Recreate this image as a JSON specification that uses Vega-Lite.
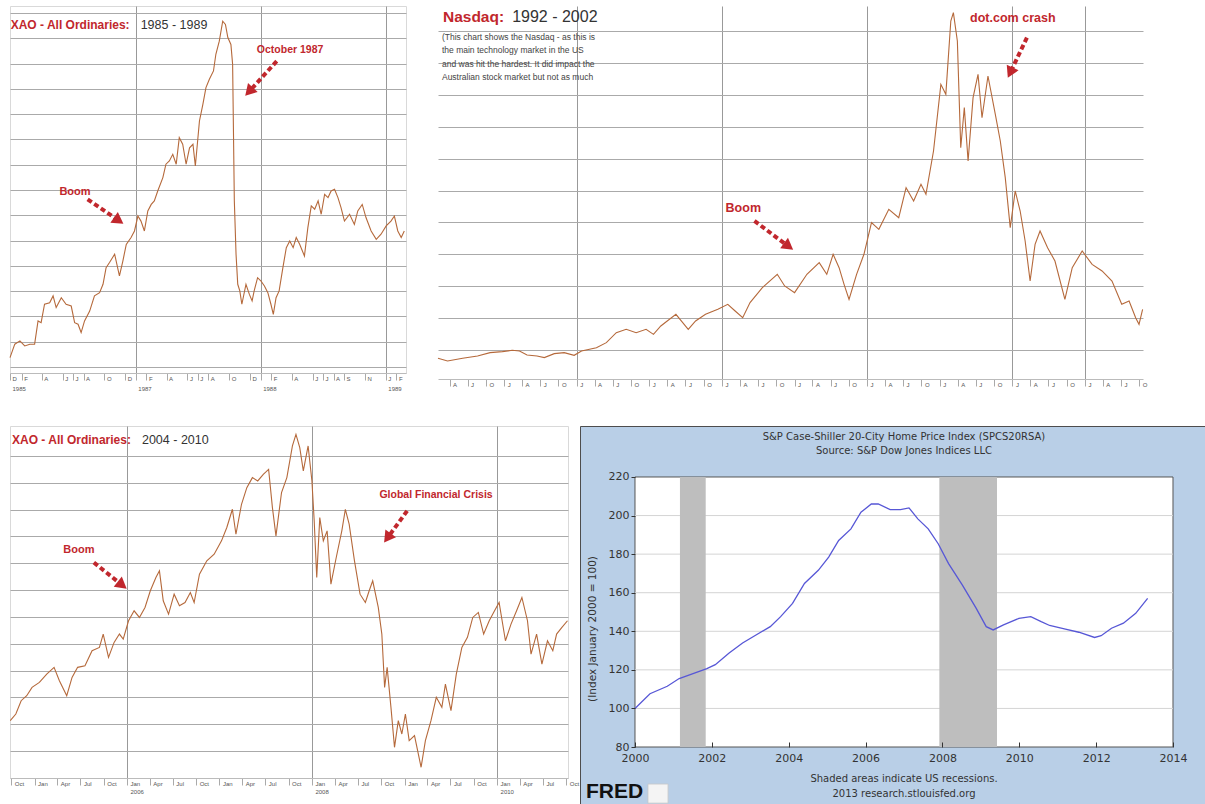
{
  "$schema": "https://vega.github.io/schema/vega-lite/v6.json",
  "background": "white",
  "padding": {"left": 7, "top": 5, "right": 0, "bottom": 0},
  "autosize": {"type": "pad"},
  "config": {"font": "Liberation Sans", "view": {"stroke": null}},
  "datasets": {
    "xao1": [
      {"date":"1985-12-29","value":937},{"date":"1986-01-12","value":990},{"date":"1986-01-27","value":1003},{"date":"1986-02-10","value":983},{"date":"1986-02-25","value":990},{"date":"1986-03-11","value":990},{"date":"1986-03-21","value":1082},{"date":"1986-03-30","value":1075},{"date":"1986-04-09","value":1148},{"date":"1986-04-24","value":1154},{"date":"1986-05-04","value":1181},{"date":"1986-05-13","value":1135},{"date":"1986-05-28","value":1174},{"date":"1986-06-11","value":1148},{"date":"1986-06-26","value":1141},{"date":"1986-07-06","value":1075},{"date":"1986-07-16","value":1069},{"date":"1986-07-25","value":1036},{"date":"1986-08-04","value":1082},{"date":"1986-08-19","value":1121},{"date":"1986-09-02","value":1181},{"date":"1986-09-17","value":1194},{"date":"1986-09-27","value":1227},{"date":"1986-10-06","value":1293},{"date":"1986-10-16","value":1313},{"date":"1986-10-31","value":1346},{"date":"1986-11-14","value":1260},{"date":"1986-11-24","value":1319},{"date":"1986-12-04","value":1385},{"date":"1986-12-18","value":1412},{"date":"1986-12-28","value":1438},{"date":"1987-01-07","value":1497},{"date":"1987-01-16","value":1477},{"date":"1987-01-26","value":1438},{"date":"1987-02-05","value":1517},{"date":"1987-02-15","value":1543},{"date":"1987-02-24","value":1557},{"date":"1987-03-06","value":1596},{"date":"1987-03-21","value":1649},{"date":"1987-03-30","value":1702},{"date":"1987-04-09","value":1715},{"date":"1987-04-19","value":1741},{"date":"1987-04-29","value":1702},{"date":"1987-05-08","value":1807},{"date":"1987-05-18","value":1781},{"date":"1987-05-28","value":1702},{"date":"1987-06-07","value":1767},{"date":"1987-06-17","value":1781},{"date":"1987-06-24","value":1695},{"date":"1987-07-06","value":1873},{"date":"1987-07-16","value":1939},{"date":"1987-07-25","value":2005},{"date":"1987-08-04","value":2038},{"date":"1987-08-16","value":2071},{"date":"1987-08-23","value":2137},{"date":"1987-09-02","value":2189},{"date":"1987-09-12","value":2268},{"date":"1987-09-20","value":2255},{"date":"1987-09-27","value":2203},{"date":"1987-10-06","value":2176},{"date":"1987-10-11","value":2097},{"date":"1987-10-16","value":1557},{"date":"1987-10-21","value":1346},{"date":"1987-10-26","value":1227},{"date":"1987-11-01","value":1201},{"date":"1987-11-07","value":1148},{"date":"1987-11-19","value":1227},{"date":"1987-11-29","value":1187},{"date":"1987-12-07","value":1161},{"date":"1987-12-13","value":1201},{"date":"1987-12-23","value":1253},{"date":"1988-01-02","value":1240},{"date":"1988-01-12","value":1220},{"date":"1988-01-22","value":1194},{"date":"1988-01-31","value":1148},{"date":"1988-02-07","value":1108},{"date":"1988-02-15","value":1174},{"date":"1988-02-24","value":1201},{"date":"1988-03-06","value":1293},{"date":"1988-03-16","value":1372},{"date":"1988-03-26","value":1398},{"date":"1988-04-05","value":1372},{"date":"1988-04-14","value":1412},{"date":"1988-04-24","value":1385},{"date":"1988-05-08","value":1339},{"date":"1988-05-18","value":1451},{"date":"1988-05-28","value":1537},{"date":"1988-06-07","value":1524},{"date":"1988-06-17","value":1557},{"date":"1988-06-26","value":1504},{"date":"1988-07-06","value":1583},{"date":"1988-07-16","value":1570},{"date":"1988-07-25","value":1596},{"date":"1988-08-04","value":1603},{"date":"1988-08-14","value":1570},{"date":"1988-08-23","value":1530},{"date":"1988-09-02","value":1477},{"date":"1988-09-17","value":1504},{"date":"1988-10-01","value":1464},{"date":"1988-10-11","value":1517},{"date":"1988-10-24","value":1543},{"date":"1988-11-04","value":1491},{"date":"1988-11-19","value":1438},{"date":"1988-12-04","value":1405},{"date":"1988-12-18","value":1425},{"date":"1989-01-02","value":1458},{"date":"1989-01-16","value":1477},{"date":"1989-01-26","value":1497},{"date":"1989-02-05","value":1438},{"date":"1989-02-15","value":1412},{"date":"1989-02-24","value":1438}
    ],
    "nasdaq": [
      {"date":"1993-02-02","value":696},{"date":"1993-03-22","value":662},{"date":"1993-06-06","value":696},{"date":"1993-08-20","value":725},{"date":"1993-10-22","value":767},{"date":"1993-12-23","value":779},{"date":"1994-02-11","value":796},{"date":"1994-03-19","value":787},{"date":"1994-04-26","value":737},{"date":"1994-06-15","value":725},{"date":"1994-07-22","value":704},{"date":"1994-09-10","value":754},{"date":"1994-10-30","value":767},{"date":"1994-12-19","value":733},{"date":"1995-01-25","value":787},{"date":"1995-04-10","value":829},{"date":"1995-05-30","value":892},{"date":"1995-07-19","value":1017},{"date":"1995-09-07","value":1059},{"date":"1995-10-27","value":1017},{"date":"1995-12-16","value":1059},{"date":"1996-01-22","value":996},{"date":"1996-02-28","value":1101},{"date":"1996-05-14","value":1247},{"date":"1996-07-15","value":1059},{"date":"1996-08-21","value":1164},{"date":"1996-10-10","value":1247},{"date":"1996-12-11","value":1310},{"date":"1997-01-30","value":1373},{"date":"1997-03-08","value":1289},{"date":"1997-04-15","value":1205},{"date":"1997-05-22","value":1394},{"date":"1997-07-23","value":1582},{"date":"1997-10-06","value":1749},{"date":"1997-11-12","value":1603},{"date":"1998-01-01","value":1519},{"date":"1998-03-04","value":1749},{"date":"1998-05-05","value":1895},{"date":"1998-06-12","value":1749},{"date":"1998-07-14","value":2000},{"date":"1998-08-13","value":1832},{"date":"1998-09-07","value":1623},{"date":"1998-10-02","value":1435},{"date":"1998-11-09","value":1749},{"date":"1998-12-16","value":2000},{"date":"1999-01-23","value":2397},{"date":"1999-03-01","value":2313},{"date":"1999-04-20","value":2564},{"date":"1999-06-09","value":2459},{"date":"1999-07-16","value":2836},{"date":"1999-08-23","value":2668},{"date":"1999-09-29","value":2877},{"date":"1999-10-24","value":2752},{"date":"1999-12-01","value":3295},{"date":"2000-01-07","value":4131},{"date":"2000-02-01","value":4006},{"date":"2000-02-26","value":4926},{"date":"2000-03-10","value":5030},{"date":"2000-03-30","value":4675},{"date":"2000-04-16","value":3337},{"date":"2000-05-04","value":3839},{"date":"2000-05-23","value":3170},{"date":"2000-06-17","value":3964},{"date":"2000-07-12","value":4257},{"date":"2000-08-01","value":3713},{"date":"2000-08-31","value":4236},{"date":"2000-10-07","value":3755},{"date":"2000-11-01","value":3421},{"date":"2000-11-26","value":2961},{"date":"2000-12-21","value":2334},{"date":"2001-01-15","value":2794},{"date":"2001-02-09","value":2543},{"date":"2001-03-06","value":2167},{"date":"2001-03-31","value":1665},{"date":"2001-04-25","value":2125},{"date":"2001-05-20","value":2292},{"date":"2001-06-27","value":2083},{"date":"2001-08-03","value":1916},{"date":"2001-09-22","value":1435},{"date":"2001-10-29","value":1832},{"date":"2001-12-18","value":2041},{"date":"2002-02-06","value":1874},{"date":"2002-03-28","value":1791},{"date":"2002-05-17","value":1665},{"date":"2002-07-05","value":1373},{"date":"2002-08-11","value":1414},{"date":"2002-09-13","value":1205},{"date":"2002-09-30","value":1122},{"date":"2002-10-18","value":1310}
    ],
    "xao2": [
      {"date":"2004-09-27","value":3641},{"date":"2004-10-19","value":3715},{"date":"2004-11-09","value":3864},{"date":"2004-12-01","value":3920},{"date":"2004-12-22","value":4013},{"date":"2005-01-20","value":4069},{"date":"2005-02-18","value":4162},{"date":"2005-03-19","value":4237},{"date":"2005-04-09","value":4088},{"date":"2005-05-08","value":3920},{"date":"2005-05-29","value":4125},{"date":"2005-06-20","value":4237},{"date":"2005-07-19","value":4255},{"date":"2005-08-16","value":4423},{"date":"2005-09-14","value":4460},{"date":"2005-09-29","value":4609},{"date":"2005-10-20","value":4348},{"date":"2005-11-11","value":4516},{"date":"2005-12-02","value":4609},{"date":"2005-12-17","value":4553},{"date":"2006-01-07","value":4758},{"date":"2006-01-29","value":4869},{"date":"2006-02-19","value":4795},{"date":"2006-03-13","value":4907},{"date":"2006-04-03","value":5093},{"date":"2006-04-25","value":5241},{"date":"2006-05-09","value":5316},{"date":"2006-05-24","value":4981},{"date":"2006-06-14","value":4832},{"date":"2006-07-06","value":5055},{"date":"2006-07-27","value":4925},{"date":"2006-08-18","value":4962},{"date":"2006-09-08","value":5074},{"date":"2006-09-23","value":4962},{"date":"2006-10-14","value":5279},{"date":"2006-11-12","value":5428},{"date":"2006-12-11","value":5502},{"date":"2007-01-09","value":5651},{"date":"2007-01-30","value":5800},{"date":"2007-02-21","value":6004},{"date":"2007-03-07","value":5725},{"date":"2007-03-29","value":6060},{"date":"2007-04-19","value":6246},{"date":"2007-05-11","value":6358},{"date":"2007-06-01","value":6321},{"date":"2007-06-23","value":6395},{"date":"2007-07-14","value":6451},{"date":"2007-07-29","value":6023},{"date":"2007-08-12","value":5707},{"date":"2007-09-03","value":6191},{"date":"2007-09-24","value":6358},{"date":"2007-10-16","value":6712},{"date":"2007-10-30","value":6842},{"date":"2007-11-14","value":6693},{"date":"2007-11-28","value":6433},{"date":"2007-12-17","value":6712},{"date":"2008-01-01","value":6321},{"date":"2008-01-10","value":5874},{"date":"2008-01-20","value":5241},{"date":"2008-02-01","value":5911},{"date":"2008-02-15","value":5651},{"date":"2008-03-01","value":5763},{"date":"2008-03-16","value":5167},{"date":"2008-04-06","value":5465},{"date":"2008-04-28","value":5763},{"date":"2008-05-12","value":6004},{"date":"2008-05-27","value":5837},{"date":"2008-06-17","value":5428},{"date":"2008-07-09","value":5055},{"date":"2008-07-30","value":4962},{"date":"2008-08-14","value":5093},{"date":"2008-08-28","value":5204},{"date":"2008-09-19","value":4907},{"date":"2008-10-03","value":4609},{"date":"2008-10-14","value":4013},{"date":"2008-10-24","value":4237},{"date":"2008-11-08","value":3790},{"date":"2008-11-22","value":3343},{"date":"2008-12-07","value":3641},{"date":"2008-12-21","value":3492},{"date":"2009-01-04","value":3715},{"date":"2009-01-19","value":3418},{"date":"2009-02-09","value":3474},{"date":"2009-03-07","value":3120},{"date":"2009-03-24","value":3418},{"date":"2009-04-15","value":3641},{"date":"2009-05-06","value":3902},{"date":"2009-05-28","value":3790},{"date":"2009-06-11","value":4050},{"date":"2009-07-03","value":3753},{"date":"2009-07-24","value":4162},{"date":"2009-08-15","value":4460},{"date":"2009-09-06","value":4572},{"date":"2009-09-27","value":4795},{"date":"2009-10-19","value":4851},{"date":"2009-11-09","value":4609},{"date":"2009-12-01","value":4758},{"date":"2009-12-22","value":4869},{"date":"2010-01-09","value":4962},{"date":"2010-02-03","value":4534},{"date":"2010-02-25","value":4720},{"date":"2010-03-19","value":4869},{"date":"2010-04-09","value":5018},{"date":"2010-05-01","value":4758},{"date":"2010-05-15","value":4385},{"date":"2010-06-06","value":4609},{"date":"2010-06-27","value":4274},{"date":"2010-07-19","value":4534},{"date":"2010-08-09","value":4423},{"date":"2010-08-24","value":4609},{"date":"2010-09-14","value":4683},{"date":"2010-10-06","value":4758}
    ],
    "cs": [
      {"year":2000.0,"value":100.0},{"year":2000.39,"value":107.6},{"year":2000.84,"value":111.5},{"year":2001.15,"value":115.5},{"year":2001.51,"value":118.0},{"year":2001.87,"value":120.6},{"year":2002.09,"value":122.7},{"year":2002.45,"value":128.7},{"year":2002.8,"value":133.9},{"year":2003.16,"value":138.2},{"year":2003.52,"value":142.4},{"year":2003.79,"value":147.6},{"year":2004.1,"value":154.5},{"year":2004.41,"value":164.8},{"year":2004.77,"value":171.6},{"year":2005.04,"value":178.5},{"year":2005.3,"value":187.1},{"year":2005.62,"value":193.1},{"year":2005.88,"value":201.7},{"year":2006.15,"value":206.0},{"year":2006.33,"value":206.0},{"year":2006.64,"value":203.1},{"year":2006.91,"value":203.1},{"year":2007.13,"value":204.0},{"year":2007.36,"value":198.3},{"year":2007.63,"value":193.1},{"year":2007.89,"value":185.4},{"year":2008.16,"value":175.1},{"year":2008.52,"value":163.9},{"year":2008.88,"value":151.9},{"year":2009.14,"value":142.4},{"year":2009.32,"value":140.7},{"year":2009.59,"value":143.3},{"year":2009.99,"value":146.7},{"year":2010.3,"value":147.6},{"year":2010.57,"value":145.0},{"year":2010.79,"value":143.0},{"year":2011.2,"value":141.1},{"year":2011.55,"value":139.5},{"year":2011.96,"value":136.8},{"year":2012.13,"value":137.7},{"year":2012.4,"value":141.6},{"year":2012.71,"value":144.2},{"year":2013.03,"value":149.3},{"year":2013.34,"value":157.1}
    ],
    "recess": [{"start": 2001.17, "end": 2001.84}, {"start": 2007.92, "end": 2009.42}],
    "csgrid": [{"v": 100}, {"v": 120}, {"v": 140}, {"v": 160}, {"v": 180}, {"v": 200}]
  },
  "spacing": 33,
  "vconcat": [
    {
      "spacing": 32,
      "bounds": "flush",
      "hconcat": [
        {
          "width": 396, "height": 367,
          "view": {"stroke": "#d9d9d9"},
          "layer": [
            {
              "data": {"name": "xao1"},
              "mark": {"type": "line", "color": "#b5693b", "strokeWidth": 1.1},
              "encoding": {
                "x": {"field": "date", "type": "temporal", "title": null,
                  "scale": {"type": "utc", "domain": [{"year":1985,"month":12,"date":29,"utc":true},{"year":1989,"month":3,"date":1,"utc":true}]},
                  "axis": {"title": null, "tickCount": 500,
                    "values": [{"year":1985,"month":12,"date":29,"utc":true},{"year":1986,"month":2,"date":1,"utc":true},{"year":1986,"month":4,"date":1,"utc":true},{"year":1986,"month":6,"date":1,"utc":true},{"year":1986,"month":7,"date":1,"utc":true},{"year":1986,"month":8,"date":1,"utc":true},{"year":1986,"month":10,"date":1,"utc":true},{"year":1986,"month":12,"date":1,"utc":true},{"year":1987,"month":1,"date":1,"utc":true},{"year":1987,"month":2,"date":1,"utc":true},{"year":1987,"month":4,"date":1,"utc":true},{"year":1987,"month":6,"date":1,"utc":true},{"year":1987,"month":7,"date":1,"utc":true},{"year":1987,"month":8,"date":1,"utc":true},{"year":1987,"month":10,"date":1,"utc":true},{"year":1987,"month":12,"date":1,"utc":true},{"year":1988,"month":1,"date":1,"utc":true},{"year":1988,"month":2,"date":1,"utc":true},{"year":1988,"month":4,"date":1,"utc":true},{"year":1988,"month":6,"date":1,"utc":true},{"year":1988,"month":7,"date":1,"utc":true},{"year":1988,"month":8,"date":1,"utc":true},{"year":1988,"month":9,"date":1,"utc":true},{"year":1988,"month":11,"date":1,"utc":true},{"year":1989,"month":1,"date":1,"utc":true},{"year":1989,"month":2,"date":1,"utc":true}],
                    "labelExpr": "utcyear(datum.value)==1985 ? ['D','1985'] : (utcmonth(datum.value)==0 ? [utcyear(datum.value)==1989 ? 'J' : '', '' + utcyear(datum.value)] : substring(utcFormat(datum.value,'%b'),0,1))",
                    "labelOverlap": false, "labelFlush": false, "labelAlign": "left", "labelBaseline": "top", "labelOffset": 2, "labelPadding": -5,
                    "labelFontSize": 6, "labelColor": "#555", "labelLineHeight": 10,
                    "tickSize": 7, "tickColor": "#aaa", "domainColor": "#bbb",
                    "grid": true, "gridColor": "#999", "gridOpacity": {"condition": {"test": "utcmonth(datum.value)==0", "value": 1}, "value": 0}}},
                "y": {"field": "value", "type": "quantitative", "title": null,
                  "scale": {"domain": [876, 2328], "nice": false, "zero": false},
                  "axis": {"title": null, "tickCount": 500, "values": [900,1000,1100,1200,1300,1400,1500,1600,1700,1800,1900,2000,2100,2200,2300], "labels": false, "ticks": false, "domain": false, "grid": true, "gridColor": "#aaa"}}
              }
            },
            {"data": {"values": [{}]}, "mark": {"type": "text", "text": "XAO - All Ordinaries:", "color": "#c1272d", "fontWeight": "bold", "fontSize": 12, "align": "left", "baseline": "middle"},
             "encoding": {"x": {"datum": {"year":1985,"month":12,"date":31,"utc":true}, "type": "temporal"}, "y": {"datum": 2253, "type": "quantitative"}}},
            {"data": {"values": [{}]}, "mark": {"type": "text", "text": "1985 - 1989", "color": "#333", "fontSize": 12.5, "align": "left", "baseline": "middle"},
             "encoding": {"x": {"datum": {"year":1987,"month":1,"date":15,"utc":true}, "type": "temporal"}, "y": {"datum": 2253, "type": "quantitative"}}},
            {"data": {"values": [{}]}, "mark": {"type": "text", "text": "Boom", "color": "#c1272d", "fontWeight": "bold", "fontSize": 11, "align": "center", "baseline": "middle"},
             "encoding": {"x": {"datum": {"year":1986,"month":7,"date":7,"utc":true}, "type": "temporal"}, "y": {"datum": 1592, "type": "quantitative"}}},
            {"data": {"values": [{}]}, "mark": {"type": "rule", "color": "#c1272d", "strokeWidth": 4, "strokeDash": [5, 3]},
             "encoding": {"x": {"datum": {"year":1986,"month":8,"date":13,"utc":true}, "type": "temporal"}, "y": {"datum": 1563, "type": "quantitative"}, "x2": {"datum": {"year":1986,"month":11,"date":12,"utc":true}}, "y2": {"datum": 1479}}},
            {"data": {"values": [{}]}, "mark": {"type": "point", "shape": "triangle-right", "filled": true, "opacity": 1, "color": "#c1272d", "size": 170, "angle": 34.8},
             "encoding": {"x": {"datum": {"year":1986,"month":11,"date":12,"utc":true}, "type": "temporal"}, "y": {"datum": 1479, "type": "quantitative"}}},
            {"data": {"values": [{}]}, "mark": {"type": "text", "text": "October 1987", "color": "#c1272d", "fontWeight": "bold", "fontSize": 10.5, "align": "center", "baseline": "middle"},
             "encoding": {"x": {"datum": {"year":1988,"month":3,"date":27,"utc":true}, "type": "temporal"}, "y": {"datum": 2154, "type": "quantitative"}}},
            {"data": {"values": [{}]}, "mark": {"type": "rule", "color": "#c1272d", "strokeWidth": 4, "strokeDash": [5, 3]},
             "encoding": {"x": {"datum": {"year":1988,"month":2,"date":17,"utc":true}, "type": "temporal"}, "y": {"datum": 2110, "type": "quantitative"}, "x2": {"datum": {"year":1987,"month":11,"date":28,"utc":true}}, "y2": {"datum": 1989}}},
            {"data": {"values": [{}]}, "mark": {"type": "point", "shape": "triangle-right", "filled": true, "opacity": 1, "color": "#c1272d", "size": 170, "angle": 132.4},
             "encoding": {"x": {"datum": {"year":1987,"month":11,"date":28,"utc":true}, "type": "temporal"}, "y": {"datum": 1989, "type": "quantitative"}}}
          ]
        },
        {
          "width": 705, "height": 373,
          "layer": [
            {
              "data": {"name": "nasdaq"},
              "mark": {"type": "line", "color": "#b5693b", "strokeWidth": 1.1},
              "encoding": {
                "x": {"field": "date", "type": "temporal", "title": null,
                  "scale": {"type": "utc", "domain": [{"year":1993,"month":2,"date":2,"utc":true},{"year":2002,"month":10,"date":20,"utc":true}]},
                  "axis": {"title": null, "tickCount": {"interval": "month", "step": 3},
                    "labelExpr": "substring(utcFormat(datum.value,'%b'),0,1)",
                    "labelOverlap": false, "labelFlush": false, "labelAlign": "left", "labelBaseline": "top", "labelOffset": 3, "labelPadding": -5,
                    "labelFontSize": 6, "labelColor": "#555",
                    "tickSize": 7, "tickColor": "#aaa", "domainColor": "#bbb",
                    "grid": true, "gridColor": "#999", "gridOpacity": {"condition": {"test": "utcmonth(datum.value)==0 && (utcyear(datum.value)%2==1 || utcyear(datum.value)==2002)", "value": 1}, "value": 0}}},
                "y": {"field": "value", "type": "quantitative", "title": null,
                  "scale": {"domain": [436, 5114], "nice": false, "zero": false},
                  "axis": {"title": null, "tickCount": 500, "values": [800,1200,1600,2000,2400,2800,3200,3600,4000,4400,4800], "labels": false, "ticks": false, "domain": false, "grid": true, "gridColor": "#aaa"}}
              }
            },
            {"data": {"values": [{}]}, "mark": {"type": "text", "text": "Nasdaq:", "color": "#c1272d", "fontWeight": "bold", "fontSize": 15.5, "align": "left", "baseline": "middle"},
             "encoding": {"x": {"datum": {"year":1993,"month":2,"date":27,"utc":true}, "type": "temporal"}, "y": {"datum": 4976, "type": "quantitative"}}},
            {"data": {"values": [{}]}, "mark": {"type": "text", "text": "1992 - 2002", "color": "#333", "fontSize": 16, "align": "left", "baseline": "middle"},
             "encoding": {"x": {"datum": {"year":1994,"month":2,"date":10,"utc":true}, "type": "temporal"}, "y": {"datum": 4976, "type": "quantitative"}}},
            {"data": {"values": [{}]}, "mark": {"type": "text", "text": ["(This chart shows the Nasdaq - as this is", "the main technology market in the US", "and was hit the hardest. It did impact the", "Australian stock market but not as much"], "color": "#444", "fontSize": 8.5, "lineHeight": 13.3, "align": "left", "baseline": "top"},
             "encoding": {"x": {"datum": {"year":1993,"month":2,"date":22,"utc":true}, "type": "temporal"}, "y": {"datum": 4775, "type": "quantitative"}}},
            {"data": {"values": [{}]}, "mark": {"type": "text", "text": "dot.com crash", "color": "#c1272d", "fontWeight": "bold", "fontSize": 12.5, "align": "center", "baseline": "middle"},
             "encoding": {"x": {"datum": {"year":2001,"month":1,"date":3,"utc":true}, "type": "temporal"}, "y": {"datum": 4959, "type": "quantitative"}}},
            {"data": {"values": [{}]}, "mark": {"type": "rule", "color": "#c1272d", "strokeWidth": 4, "strokeDash": [5, 3]},
             "encoding": {"x": {"datum": {"year":2001,"month":3,"date":15,"utc":true}, "type": "temporal"}, "y": {"datum": 4717, "type": "quantitative"}, "x2": {"datum": {"year":2000,"month":12,"date":21,"utc":true}}, "y2": {"datum": 4279}}},
            {"data": {"values": [{}]}, "mark": {"type": "point", "shape": "triangle-right", "filled": true, "opacity": 1, "color": "#c1272d", "size": 170, "angle": 115.4},
             "encoding": {"x": {"datum": {"year":2000,"month":12,"date":21,"utc":true}, "type": "temporal"}, "y": {"datum": 4279, "type": "quantitative"}}},
            {"data": {"values": [{}]}, "mark": {"type": "text", "text": "Boom", "color": "#c1272d", "fontWeight": "bold", "fontSize": 12.5, "align": "center", "baseline": "middle"},
             "encoding": {"x": {"datum": {"year":1997,"month":4,"date":18,"utc":true}, "type": "temporal"}, "y": {"datum": 2585, "type": "quantitative"}}},
            {"data": {"values": [{}]}, "mark": {"type": "rule", "color": "#c1272d", "strokeWidth": 4, "strokeDash": [5, 3]},
             "encoding": {"x": {"datum": {"year":1997,"month":6,"date":13,"utc":true}, "type": "temporal"}, "y": {"datum": 2418, "type": "quantitative"}, "x2": {"datum": {"year":1997,"month":12,"date":2,"utc":true}}, "y2": {"datum": 2099}}},
            {"data": {"values": [{}]}, "mark": {"type": "point", "shape": "triangle-right", "filled": true, "opacity": 1, "color": "#c1272d", "size": 170, "angle": 36.6},
             "encoding": {"x": {"datum": {"year":1997,"month":12,"date":2,"utc":true}, "type": "temporal"}, "y": {"datum": 2099, "type": "quantitative"}}}
          ]
        }
      ]
    },
    {
      "spacing": 12,
      "bounds": "flush",
      "hconcat": [
        {
          "width": 558, "height": 352,
          "view": {"stroke": "#d9d9d9"},
          "layer": [
            {
              "data": {"name": "xao2"},
              "mark": {"type": "line", "color": "#b5693b", "strokeWidth": 1.1},
              "encoding": {
                "x": {"field": "date", "type": "temporal", "title": null,
                  "scale": {"type": "utc", "domain": [{"year":2004,"month":9,"date":26,"utc":true},{"year":2010,"month":10,"date":8,"utc":true}]},
                  "axis": {"title": null, "tickCount": {"interval": "month", "step": 3},
                    "labelExpr": "(utcmonth(datum.value)==0 && utcyear(datum.value)%2==0) ? [utcFormat(datum.value,'%b'), '' + utcyear(datum.value)] : utcFormat(datum.value,'%b')",
                    "labelOverlap": false, "labelFlush": false, "labelAlign": "left", "labelBaseline": "top", "labelOffset": 3, "labelPadding": -5,
                    "labelFontSize": 6, "labelColor": "#555", "labelLineHeight": 8,
                    "tickSize": 7, "tickColor": "#aaa", "domainColor": "#bbb",
                    "grid": true, "gridColor": "#999", "gridOpacity": {"condition": {"test": "utcmonth(datum.value)==0 && utcyear(datum.value)%2==0", "value": 1}, "value": 0}}},
                "y": {"field": "value", "type": "quantitative", "title": null,
                  "scale": {"domain": [3000, 6935], "nice": false, "zero": false},
                  "axis": {"title": null, "tickCount": 500, "values": [3300,3600,3900,4200,4500,4800,5100,5400,5700,6000,6300,6600], "labels": false, "ticks": false, "domain": false, "grid": true, "gridColor": "#aaa"}}
              }
            },
            {"data": {"values": [{}]}, "mark": {"type": "text", "text": "XAO - All Ordinaries:", "color": "#c1272d", "fontWeight": "bold", "fontSize": 12, "align": "left", "baseline": "middle"},
             "encoding": {"x": {"datum": {"year":2004,"month":10,"date":4,"utc":true}, "type": "temporal"}, "y": {"datum": 6775, "type": "quantitative"}}},
            {"data": {"values": [{}]}, "mark": {"type": "text", "text": "2004 - 2010", "color": "#333", "fontSize": 12.5, "align": "left", "baseline": "middle"},
             "encoding": {"x": {"datum": {"year":2006,"month":3,"date":1,"utc":true}, "type": "temporal"}, "y": {"datum": 6775, "type": "quantitative"}}},
            {"data": {"values": [{}]}, "mark": {"type": "text", "text": "Boom", "color": "#c1272d", "fontWeight": "bold", "fontSize": 11, "align": "center", "baseline": "middle"},
             "encoding": {"x": {"datum": {"year":2005,"month":6,"date":25,"utc":true}, "type": "temporal"}, "y": {"datum": 5547, "type": "quantitative"}}},
            {"data": {"values": [{}]}, "mark": {"type": "rule", "color": "#c1272d", "strokeWidth": 4, "strokeDash": [5, 3]},
             "encoding": {"x": {"datum": {"year":2005,"month":8,"date":23,"utc":true}, "type": "temporal"}, "y": {"datum": 5409, "type": "quantitative"}, "x2": {"datum": {"year":2005,"month":12,"date":13,"utc":true}}, "y2": {"datum": 5156}}},
            {"data": {"values": [{}]}, "mark": {"type": "point", "shape": "triangle-right", "filled": true, "opacity": 1, "color": "#c1272d", "size": 170, "angle": 38.2},
             "encoding": {"x": {"datum": {"year":2005,"month":12,"date":13,"utc":true}, "type": "temporal"}, "y": {"datum": 5156, "type": "quantitative"}}},
            {"data": {"values": [{}]}, "mark": {"type": "text", "text": "Global Financial Crisis", "color": "#c1272d", "fontWeight": "bold", "fontSize": 10.5, "align": "center", "baseline": "middle"},
             "encoding": {"x": {"datum": {"year":2009,"month":5,"date":5,"utc":true}, "type": "temporal"}, "y": {"datum": 6165, "type": "quantitative"}}},
            {"data": {"values": [{}]}, "mark": {"type": "rule", "color": "#c1272d", "strokeWidth": 4, "strokeDash": [5, 3]},
             "encoding": {"x": {"datum": {"year":2009,"month":1,"date":11,"utc":true}, "type": "temporal"}, "y": {"datum": 5986, "type": "quantitative"}, "x2": {"datum": {"year":2008,"month":10,"date":25,"utc":true}}, "y2": {"datum": 5683}}},
            {"data": {"values": [{}]}, "mark": {"type": "point", "shape": "triangle-right", "filled": true, "opacity": 1, "color": "#c1272d", "size": 170, "angle": 125.7},
             "encoding": {"x": {"datum": {"year":2008,"month":10,"date":25,"utc":true}, "type": "temporal"}, "y": {"datum": 5683, "type": "quantitative"}}}
          ]
        },
        {
          "width": 628, "height": 379,
          "view": {"fill": "#b9cfe7", "stroke": "#4d4d4d", "strokeWidth": 1},
          "layer": [
            {
              "data": {"values": [{}]},
              "mark": {"type": "rect", "fill": "white", "stroke": "#555", "strokeWidth": 1},
              "encoding": {
                "x": {"datum": 2000, "type": "quantitative",
                  "scale": {"domain": [1998.569, 2014.911], "nice": false, "zero": false},
                  "axis": {"title": null, "values": [2000,2002,2004,2006,2008,2010,2012,2014], "format": "d", "offset": -58, "domain": false, "grid": false,
                    "tickSize": -5, "tickColor": "#333", "labelPadding": 10.5, "labelFontSize": 11, "labelFont": "DejaVu Sans", "labelColor": "#333",
                    "labelFlush": false, "labelOverlap": false, "zindex": 1}},
                "x2": {"datum": 2014},
                "y": {"datum": 80, "type": "quantitative",
                  "scale": {"domain": [49.93, 246.44], "nice": false, "zero": false},
                  "axis": {"title": null, "values": [80,100,120,140,160,180,200,220], "format": "d", "offset": -55, "domain": false, "grid": false,
                    "tickSize": 4, "tickColor": "#333", "labelPadding": 2, "labelFontSize": 11, "labelFont": "DejaVu Sans", "labelColor": "#333",
                    "labelFlush": false, "labelOverlap": false, "zindex": 1}},
                "y2": {"datum": 220}
              }
            },
            {"data": {"name": "csgrid"}, "mark": {"type": "rule", "color": "#d4d4d4", "strokeWidth": 1},
             "encoding": {"y": {"field": "v", "type": "quantitative"}, "x": {"datum": 2000, "type": "quantitative"}, "x2": {"datum": 2014}}},
            {"data": {"name": "recess"}, "mark": {"type": "rect", "color": "#bebebe"},
             "encoding": {"x": {"field": "start", "type": "quantitative"}, "x2": {"field": "end"}, "y": {"datum": 80, "type": "quantitative"}, "y2": {"datum": 220}}},
            {"data": {"name": "cs"}, "mark": {"type": "line", "color": "#5757d6", "strokeWidth": 1.3},
             "encoding": {"x": {"field": "year", "type": "quantitative"}, "y": {"field": "value", "type": "quantitative"}}},
            {"data": {"values": [{}]}, "mark": {"type": "text", "text": ["S&P Case-Shiller 20-City Home Price Index (SPCS20RSA)", "Source: S&P Dow Jones Indices LLC"], "font": "DejaVu Sans", "fontSize": 10, "lineHeight": 14, "color": "#333", "align": "center", "baseline": "top"},
             "encoding": {"x": {"datum": 2007, "type": "quantitative"}, "y": {"datum": 243.3, "type": "quantitative"}}},
            {"data": {"values": [{}]}, "mark": {"type": "text", "text": ["Shaded areas indicate US recessions.", "2013 research.stlouisfed.org"], "font": "DejaVu Sans", "fontSize": 10, "lineHeight": 15, "color": "#333", "align": "center", "baseline": "top"},
             "encoding": {"x": {"datum": 2007, "type": "quantitative"}, "y": {"datum": 66.0, "type": "quantitative"}}},
            {"data": {"values": [{}]}, "mark": {"type": "text", "text": "(Index January 2000 = 100)", "font": "DejaVu Sans", "fontSize": 10.5, "angle": 270, "color": "#333", "align": "center", "baseline": "middle"},
             "encoding": {"x": {"datum": 1998.907, "type": "quantitative"}, "y": {"datum": 141.2, "type": "quantitative"}}},
            {"data": {"values": [{}]}, "mark": {"type": "text", "text": "FRED", "font": "Liberation Sans", "fontWeight": "bold", "fontSize": 21, "color": "#111", "align": "left", "baseline": "middle"},
             "encoding": {"x": {"datum": 1998.725, "type": "quantitative"}, "y": {"datum": 56.7, "type": "quantitative"}}},
            {"data": {"values": [{}]}, "mark": {"type": "rect", "fill": "#f4f4f4", "stroke": "#c8c8c8", "strokeWidth": 0.8},
             "encoding": {"x": {"datum": 2000.338, "type": "quantitative"}, "x2": {"datum": 2000.86}, "y": {"datum": 50.9, "type": "quantitative"}, "y2": {"datum": 60.8}}}
          ]
        }
      ]
    }
  ]
}
